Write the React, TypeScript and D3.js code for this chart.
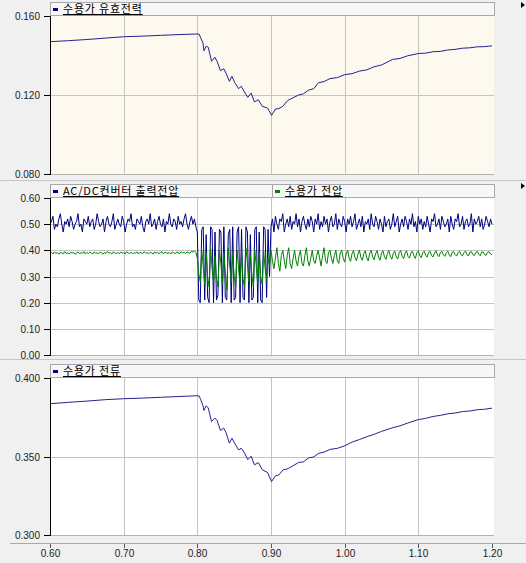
import React from "react";
import * as d3 from "d3";

// sampled simulation output, seconds
const T_START = 0.6;
const DT = 0.002;

const xTicks = [0.6, 0.7, 0.8, 0.9, 1.0, 1.1, 1.2];
const powerTicks = [0.16, 0.12, 0.08];
const voltageTicks = [0.6, 0.5, 0.4, 0.3, 0.2, 0.1, 0.0];
const currentTicks = [0.4, 0.35, 0.3];

// 수용가 유효전력
const powerTime = [
  0.6, 0.625, 0.65, 0.675, 0.7, 0.725, 0.75, 0.775, 0.8,
  0.8023, 0.8046, 0.8077, 0.809, 0.812, 0.8148, 0.8193, 0.8238, 0.8268, 0.8314,
  0.8358, 0.8389, 0.8435, 0.847, 0.8506, 0.856, 0.8596, 0.864, 0.8685, 0.873,
  0.8775, 0.8828, 0.8882, 0.8953, 0.9007, 0.906, 0.9106, 0.9164, 0.9208, 0.924,
  0.9375, 0.944, 0.951, 0.958, 0.9645, 0.972, 0.98, 0.99, 1.0, 1.01, 1.02, 1.03,
  1.04, 1.05, 1.065, 1.075, 1.085, 1.1, 1.11, 1.12, 1.13, 1.14, 1.15, 1.16, 1.17,
  1.18, 1.19, 1.2,
];
const powerValue = [
  0.147, 0.1475, 0.1481, 0.1488, 0.1495, 0.1498, 0.1502, 0.1506, 0.1509,
  0.1509, 0.1489, 0.1463, 0.1424, 0.1447, 0.1442, 0.1371, 0.1391, 0.1371, 0.1323,
  0.1333, 0.1311, 0.1269, 0.1295, 0.1264, 0.1232, 0.1244, 0.1215, 0.1188, 0.121,
  0.1165, 0.1176, 0.1143, 0.1134, 0.1097, 0.1129, 0.1131, 0.1143, 0.1165, 0.1175,
  0.12, 0.1206, 0.1225, 0.1232, 0.1262, 0.1268, 0.1283, 0.1288, 0.1303, 0.1308,
  0.1321, 0.1327, 0.1343, 0.1352, 0.138, 0.1385, 0.1398, 0.141, 0.1412, 0.1419,
  0.1421, 0.1428, 0.1431, 0.1437, 0.1439, 0.1444, 0.1445, 0.1449,
];

// 수용가 전류
const currentTime = powerTime;
const currentValue = [
  0.3836, 0.3845, 0.3853, 0.3862, 0.3868, 0.3872, 0.3877, 0.3882, 0.3887,
  0.3887, 0.3862, 0.3823, 0.3793, 0.3823, 0.3809, 0.3723, 0.3745, 0.373, 0.3666,
  0.3681, 0.3653, 0.3585, 0.3617, 0.3585, 0.3542, 0.3553, 0.3523, 0.348, 0.3502,
  0.3447, 0.3461, 0.3415, 0.3398, 0.334, 0.3376, 0.3383, 0.3415, 0.3419, 0.3425,
  0.3462, 0.3466, 0.3491, 0.3497, 0.352, 0.3528, 0.3545, 0.3552, 0.3568, 0.3592,
  0.3608, 0.3626, 0.3641, 0.366, 0.3683, 0.3695, 0.3712, 0.3735, 0.3743, 0.3755,
  0.3762, 0.3772, 0.3777, 0.3786, 0.379, 0.3798, 0.3801, 0.3808,
];

// AC/DC컨버터 출력전압 (every DT from T_START)
const converterVoltage = [
  0.50, 0.51, 0.53, 0.48, 0.50, 0.49, 0.52, 0.54, 0.50, 0.47,
  0.51, 0.50, 0.52, 0.49, 0.53, 0.51, 0.48, 0.50, 0.51, 0.54,
  0.49, 0.50, 0.47, 0.52, 0.51, 0.50, 0.53, 0.49, 0.51, 0.52,
  0.48, 0.50, 0.54, 0.51, 0.49, 0.50, 0.52, 0.47, 0.51, 0.53,
  0.50, 0.49, 0.51, 0.54, 0.48, 0.50, 0.52, 0.50, 0.49, 0.53,
  0.51, 0.47, 0.50, 0.52, 0.51, 0.54, 0.49, 0.50, 0.48, 0.52,
  0.51, 0.50, 0.53, 0.49, 0.47, 0.51, 0.52, 0.50, 0.54, 0.49,
  0.50, 0.52, 0.48, 0.51, 0.53, 0.50, 0.49, 0.52, 0.47, 0.51,
  0.50, 0.54, 0.50, 0.49, 0.52, 0.51, 0.48, 0.53, 0.50, 0.51,
  0.49, 0.52, 0.54, 0.50, 0.48, 0.51, 0.53, 0.50, 0.52, 0.49,
  0.47, 0.21, 0.20, 0.48, 0.49, 0.21, 0.46, 0.22, 0.20, 0.49,
  0.48, 0.20, 0.47, 0.21, 0.23, 0.48, 0.47, 0.20, 0.49, 0.22,
  0.21, 0.46, 0.48, 0.20, 0.49, 0.21, 0.22, 0.47, 0.49, 0.20,
  0.48, 0.22, 0.21, 0.49, 0.47, 0.20, 0.46, 0.21, 0.22, 0.48,
  0.49, 0.20, 0.47, 0.21, 0.20, 0.49, 0.48, 0.22, 0.48, 0.30,
  0.49, 0.52, 0.47, 0.53, 0.50, 0.48, 0.52, 0.51, 0.54, 0.47,
  0.50, 0.52, 0.49, 0.53, 0.48, 0.51, 0.50, 0.54, 0.49, 0.52,
  0.47, 0.51, 0.53, 0.50, 0.48, 0.52, 0.49, 0.53, 0.51, 0.47,
  0.52, 0.50, 0.54, 0.48, 0.51, 0.49, 0.53, 0.50, 0.52, 0.47,
  0.51, 0.53, 0.49, 0.50, 0.54, 0.48, 0.52, 0.50, 0.49, 0.53,
  0.51, 0.47, 0.52, 0.50, 0.53, 0.49, 0.51, 0.54, 0.48, 0.50,
  0.52, 0.49, 0.53, 0.47, 0.51, 0.50, 0.52, 0.48, 0.54, 0.50,
  0.49, 0.53, 0.51, 0.48, 0.52, 0.50, 0.47, 0.53, 0.49, 0.51,
  0.52, 0.48, 0.50, 0.54, 0.49, 0.51, 0.53, 0.47, 0.50, 0.52,
  0.49, 0.53, 0.51, 0.48, 0.52, 0.50, 0.54, 0.49, 0.51, 0.47,
  0.53, 0.50, 0.52, 0.48, 0.51, 0.49, 0.53, 0.50, 0.47, 0.52,
  0.51, 0.54, 0.49, 0.50, 0.52, 0.48, 0.53, 0.51, 0.49, 0.50,
  0.52, 0.47, 0.53, 0.50, 0.48, 0.52, 0.51, 0.54, 0.49, 0.50,
  0.53, 0.48, 0.51, 0.52, 0.49, 0.50, 0.54, 0.47, 0.52, 0.50,
  0.51, 0.53, 0.49, 0.52, 0.48, 0.50, 0.53, 0.51, 0.49, 0.52,
  0.50,
];

// 수용가 전압 (every DT from T_START)
const customerVoltage = [
  0.388, 0.392, 0.386, 0.394, 0.389, 0.391, 0.385, 0.393, 0.390, 0.387,
  0.395, 0.388, 0.391, 0.386, 0.393, 0.389, 0.392, 0.385, 0.390, 0.394,
  0.387, 0.391, 0.389, 0.395, 0.386, 0.392, 0.388, 0.393, 0.390, 0.386,
  0.394, 0.389, 0.391, 0.387, 0.393, 0.390, 0.385, 0.392, 0.388, 0.395,
  0.389, 0.391, 0.386, 0.394, 0.390, 0.388, 0.392, 0.387, 0.393, 0.389,
  0.391, 0.386, 0.395, 0.390, 0.388, 0.393, 0.387, 0.391, 0.389, 0.394,
  0.386, 0.392, 0.390, 0.388, 0.395, 0.389, 0.391, 0.387, 0.393, 0.390,
  0.386, 0.394, 0.389, 0.392, 0.388, 0.391, 0.395, 0.387, 0.393, 0.390,
  0.389, 0.392, 0.386, 0.394, 0.390, 0.388, 0.393, 0.391, 0.387, 0.395,
  0.390, 0.392, 0.388, 0.394, 0.391, 0.389, 0.396, 0.393, 0.398, 0.392,
  0.37, 0.31, 0.28, 0.40, 0.34, 0.27, 0.39, 0.30, 0.26, 0.41,
  0.33, 0.28, 0.38, 0.29, 0.26, 0.40, 0.35, 0.27, 0.39, 0.31,
  0.25, 0.41, 0.34, 0.28, 0.38, 0.30, 0.26, 0.40, 0.33, 0.27,
  0.39, 0.29, 0.26, 0.41, 0.35, 0.28, 0.38, 0.31, 0.26, 0.40,
  0.34, 0.27, 0.39, 0.30, 0.27, 0.40, 0.33, 0.29, 0.37, 0.34,
  0.40, 0.36, 0.33, 0.37, 0.41, 0.35, 0.32, 0.38, 0.40, 0.36,
  0.33, 0.38, 0.41, 0.35, 0.33, 0.37, 0.40, 0.36, 0.34, 0.38,
  0.40, 0.35, 0.34, 0.38, 0.41, 0.36, 0.34, 0.37, 0.40, 0.36,
  0.35, 0.38, 0.40, 0.37, 0.34, 0.38, 0.41, 0.36, 0.35, 0.39,
  0.40, 0.37, 0.35, 0.38, 0.40, 0.36, 0.35, 0.39, 0.40, 0.37,
  0.355, 0.385, 0.400, 0.370, 0.358, 0.387, 0.399, 0.372, 0.360, 0.386,
  0.401, 0.373, 0.362, 0.388, 0.398, 0.371, 0.360, 0.389, 0.400, 0.375,
  0.364, 0.387, 0.399, 0.374, 0.362, 0.390, 0.398, 0.376, 0.365, 0.388,
  0.400, 0.377, 0.366, 0.389, 0.397, 0.375, 0.367, 0.391, 0.399, 0.378,
  0.368, 0.389, 0.398, 0.377, 0.370, 0.390, 0.397, 0.379, 0.369, 0.391,
  0.398, 0.380, 0.372, 0.391, 0.397, 0.381, 0.374, 0.392, 0.396, 0.380,
  0.375, 0.390, 0.398, 0.382, 0.376, 0.392, 0.396, 0.383, 0.377, 0.391,
  0.397, 0.382, 0.376, 0.393, 0.395, 0.384, 0.378, 0.392, 0.396, 0.383,
  0.379, 0.391, 0.397, 0.385, 0.378, 0.393, 0.395, 0.384, 0.380, 0.392,
  0.396, 0.385, 0.379, 0.393, 0.394, 0.384, 0.381, 0.392, 0.395, 0.386,
  0.383,
];

const W = 526;
const H = 563;
const LEFT = 50;
const RIGHT = 492;
const PLOT_RIGHT = 494;
const KFONT = "'Noto Sans CJK KR', 'Noto Sans', sans-serif";
const NFONT = "'Liberation Sans', Arial, sans-serif";

const x = d3.scaleLinear().domain([0.6, 1.2]).range([LEFT, RIGHT]);

type Series = { t: number[]; v: number[]; color: string; width: number };
type Legend = { label: string; color: string; x0: number; x1: number };

function Panel({
  top, bottom, domain, ticks, fmt, bg, grid, series, legends,
}: {
  top: number; bottom: number; domain: [number, number]; ticks: number[];
  fmt: (d: number) => string; bg: string; grid: number[]; series: Series[]; legends: Legend[];
}) {
  const y = d3.scaleLinear().domain(domain).range([bottom, top]);
  const clipId = `clip-${top}`;
  return (
    <g>
      <defs>
        <clipPath id={clipId}>
          <rect x={LEFT} y={top - 1} width={PLOT_RIGHT - LEFT} height={bottom - top + 2} />
        </clipPath>
      </defs>
      <rect x={LEFT} y={top} width={PLOT_RIGHT - LEFT} height={bottom - top} fill={bg} />
      {xTicks.slice(1, -1).map((d) => (
        <line key={d} x1={Math.round(x(d)) + 0.5} x2={Math.round(x(d)) + 0.5} y1={top} y2={bottom} stroke="#c4c4c4" />
      ))}
      {grid.map((d) => (
        <line key={d} x1={LEFT} x2={PLOT_RIGHT} y1={Math.round(y(d)) + 0.5} y2={Math.round(y(d)) + 0.5} stroke="#c4c4c4" />
      ))}
      <line x1={LEFT} x2={PLOT_RIGHT} y1={bottom + 0.5} y2={bottom + 0.5} stroke="#b4b4b4" />
      <g clipPath={`url(#${clipId})`}>
        {series.map((s, i) => {
          const line = d3.line<number>().x((_, j) => x(s.t[j])).y((d) => y(d));
          return <path key={i} d={line(s.v) || ""} fill="none" stroke={s.color} strokeWidth={s.width} strokeLinejoin="round" />;
        })}
      </g>
      <line x1={LEFT + 0.5} x2={LEFT + 0.5} y1={top} y2={bottom + 1} stroke="#000" />
      {ticks.map((d) => (
        <g key={d} transform={`translate(0,${Math.round(y(d)) + 0.5})`}>
          <line x1={44} x2={LEFT} stroke="#000" />
          <text x={40} dy="0.35em" textAnchor="end" fontFamily={NFONT} fontSize={10} fill="#222">{fmt(d)}</text>
        </g>
      ))}
      {legends.map((l) => (
        <g key={l.label}>
          <rect x={l.x0 + 0.5} y={top - 13.5} width={l.x1 - l.x0} height={13} fill="#f7f7f7" stroke="#a8a8a8" />
          <rect x={l.x0 + 3} y={top - 8} width={5} height={3} fill={l.color} />
          <text x={l.x0 + 13} y={top - 3} fontFamily={KFONT} fontSize={11} letterSpacing={0.8} fill="#000" textDecoration="underline">{l.label}</text>
        </g>
      ))}
    </g>
  );
}

const uniformTime = converterVoltage.map((_, i) => T_START + i * DT);

export default function App() {
  return (
    <svg width={W} height={H} style={{ position: "absolute", left: 0, top: 0, display: "block", background: "#f0f0f0" }}>
      <rect width={W} height={H} fill="#f0f0f0" />
      <Panel
        top={16} bottom={174} domain={[0.08, 0.16]} ticks={powerTicks} fmt={d3.format(".3f")}
        bg="#fdf9ee" grid={[0.12]}
        series={[{ t: powerTime, v: powerValue, color: "#22228e", width: 1 }]}
        legends={[{ label: "수용가 유효전력", color: "#000080", x0: LEFT, x1: PLOT_RIGHT }]}
      />
      <line x1={0} x2={W} y1={180.5} y2={180.5} stroke="#c6c6c6" />
      <Panel
        top={198} bottom={355} domain={[0, 0.6]} ticks={voltageTicks} fmt={d3.format(".2f")}
        bg="#ffffff" grid={[0.5, 0.4, 0.3, 0.2, 0.1]}
        series={[
          { t: uniformTime, v: converterVoltage, color: "#000080", width: 1 },
          { t: uniformTime, v: customerVoltage, color: "#008000", width: 1 },
        ]}
        legends={[
          { label: "AC/DC컨버터 출력전압", color: "#000080", x0: LEFT, x1: 272 },
          { label: "수용가 전압", color: "#008000", x0: 272, x1: PLOT_RIGHT },
        ]}
      />
      <line x1={0} x2={W} y1={359.5} y2={359.5} stroke="#c6c6c6" />
      <Panel
        top={378} bottom={535} domain={[0.3, 0.4]} ticks={currentTicks} fmt={d3.format(".3f")}
        bg="#ffffff" grid={[0.35]}
        series={[{ t: currentTime, v: currentValue, color: "#22228e", width: 1 }]}
        legends={[{ label: "수용가 전류", color: "#000080", x0: LEFT, x1: PLOT_RIGHT }]}
      />
      <line x1={10} x2={W} y1={543.5} y2={543.5} stroke="#a8a8a8" />
      {xTicks.map((d) => (
        <g key={d} transform={`translate(${Math.round(x(d)) + 0.5},0)`}>
          <line y1={544} y2={548} stroke="#555" />
          <text y={557} textAnchor="middle" fontFamily={NFONT} fontSize={10} fill="#222">{d3.format(".2f")(d)}</text>
        </g>
      ))}
      <path d="M521,2 L525,5 L521,8 Z" fill="#000" />
      <path d="M521,183 L525,186 L521,189 Z" fill="#000" />
    </svg>
  );
}
